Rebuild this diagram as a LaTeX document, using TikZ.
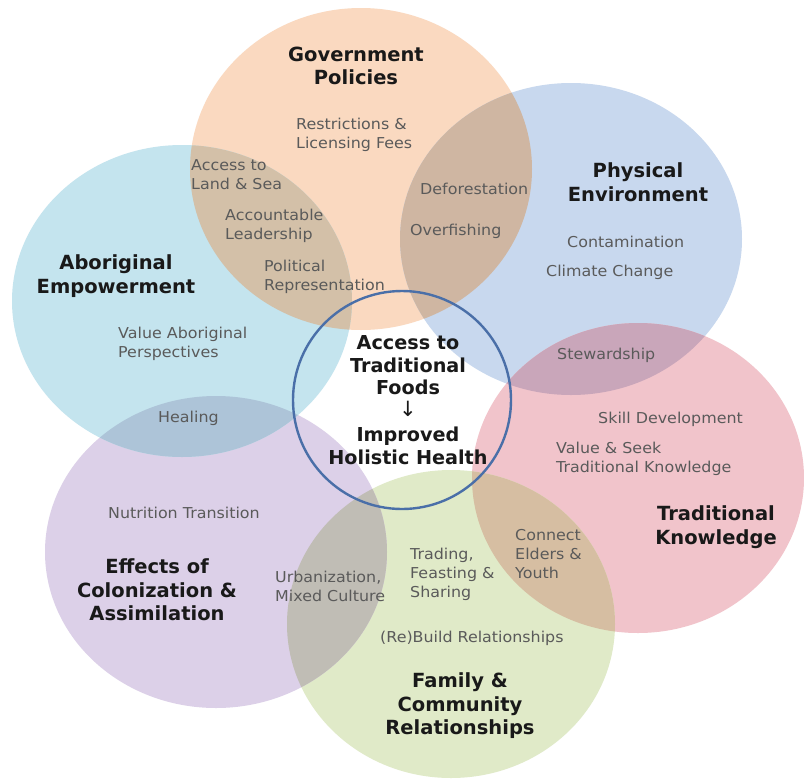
\documentclass[tikz,border=0pt]{standalone}
\usepackage{fontspec}
\setmainfont{DejaVu Sans}
\newfontfamily\itemfont[FakeStretch=1.06]{DejaVu Sans}
\definecolor{cOr}{HTML}{FAD9C0}
\definecolor{cBl}{HTML}{C8D8EE}
\definecolor{cPk}{HTML}{F1C4CB}
\definecolor{cGr}{HTML}{E0EAC8}
\definecolor{cPu}{HTML}{DCD0E8}
\definecolor{cCy}{HTML}{C4E4EE}
\definecolor{oOB}{HTML}{CFB6A2}
\definecolor{oOC}{HTML}{D3C0A8}
\definecolor{oBP}{HTML}{C9A6BA}
\definecolor{oPG}{HTML}{D6BEA2}
\definecolor{oGU}{HTML}{C0BDB5}
\definecolor{oUC}{HTML}{ADC4D8}
\definecolor{itemgray}{HTML}{5A5A5A}
\definecolor{ringblue}{HTML}{4A6FA8}
\tikzset{
  titletext/.style={font=\bfseries\fontsize{19.5}{23.5}\selectfont, text=black!90, align=center},
  itemtext/.style={font=\itemfont\fontsize{15}{19}\selectfont, text=itemgray, align=left, anchor=west, inner sep=0pt},
}
\newcommand{\ellOr}{(361,169) ellipse [x radius=171pt, y radius=161pt]}
\newcommand{\ellBl}{(571,239) ellipse [x radius=171pt, y radius=156pt]}
\newcommand{\ellPk}{(638,478) ellipse [x radius=166pt, y radius=155pt]}
\newcommand{\ellGr}{(451,624) ellipse [x radius=164pt, y radius=154pt]}
\newcommand{\ellPu}{(216,552) ellipse [x radius=171pt, y radius=156pt]}
\newcommand{\ellCy}{(182,301) ellipse [x radius=170pt, y radius=156pt]}
\begin{document}
\begin{tikzpicture}[x=1pt,y=-1pt]
\useasboundingbox (0,0) rectangle (804,780);
\fill[white] (0,0) rectangle (804,780);
% base circles
\fill[cOr] \ellOr;
\fill[cBl] \ellBl;
\fill[cPk] \ellPk;
\fill[cGr] \ellGr;
\fill[cPu] \ellPu;
\fill[cCy] \ellCy;
% overlaps
\begin{scope}\clip \ellOr; \fill[oOB] \ellBl; \end{scope}
\begin{scope}\clip \ellOr; \fill[oOC] \ellCy; \end{scope}
\begin{scope}\clip \ellBl; \fill[oBP] \ellPk; \end{scope}
\begin{scope}\clip \ellPk; \fill[oPG] \ellGr; \end{scope}
\begin{scope}\clip \ellGr; \fill[oGU] \ellPu; \end{scope}
\begin{scope}\clip \ellPu; \fill[oUC] \ellCy; \end{scope}
% centre ring
\node[circle, draw=ringblue, line width=2.4pt, minimum size=218pt, inner sep=0pt] (ring) at (402,400) {};
\node[font=\bfseries\fontsize{19.2}{22.5}\selectfont, text=black!90, align=center] (centre) at (408,400)
  {Access to\\Traditional\\Foods\\[-1pt]{\mdseries\fontsize{21}{22}\selectfont ↓}\\[3pt]Improved\\Holistic Health};
% titles
\node[titletext] (gov) at (356,66) {Government\\Policies};
\node[titletext] (phys) at (638,182) {Physical\\Environment};
\node[titletext] (abor) at (116,276) {Aboriginal\\Empowerment};
\node[titletext] (trad) at (716,527) {Traditional\\Knowledge};
\node[titletext] (eff) at (157,590) {Effects of\\Colonization \&\\Assimilation};
\node[titletext] (fam) at (460,706) {Family \&\\Community\\Relationships};
% items
\node[itemtext] (restr) at (296,135) {Restrictions \&\\Licensing Fees};
\node[itemtext] (land) at (191,175) {Access to\\Land \& Sea};
\node[itemtext] (acct) at (225,226) {Accountable\\Leadership};
\node[itemtext] (polit) at (264,277) {Political\\Representation};
\node[itemtext] (defor) at (420,189) {Deforestation};
\node[itemtext] (overf) at (410,231) {Overfishing};
\node[itemtext] (contam) at (567,242) {Contamination};
\node[itemtext] (clim) at (546,272) {Climate Change};
\node[itemtext] (stew) at (557,355) {Stewardship};
\node[itemtext] (valab) at (118,344) {Value Aboriginal\\Perspectives};
\node[itemtext] (heal) at (158,418) {Healing};
\node[itemtext] (skill) at (598,419) {Skill Development};
\node[itemtext] (seek) at (556,459) {Value \& Seek\\Traditional Knowledge};
\node[itemtext] (nutr) at (108,513) {Nutrition Transition};
\node[itemtext] (urb) at (275,586) {Urbanization,\\Mixed Culture};
\node[itemtext] (tradf) at (410,574) {Trading,\\Feasting \&\\Sharing};
\node[itemtext] (elders) at (515,554) {Connect\\Elders \&\\Youth};
\node[itemtext] (rebuild) at (380,638) {(Re)Build Relationships};
\end{tikzpicture}
\end{document}
